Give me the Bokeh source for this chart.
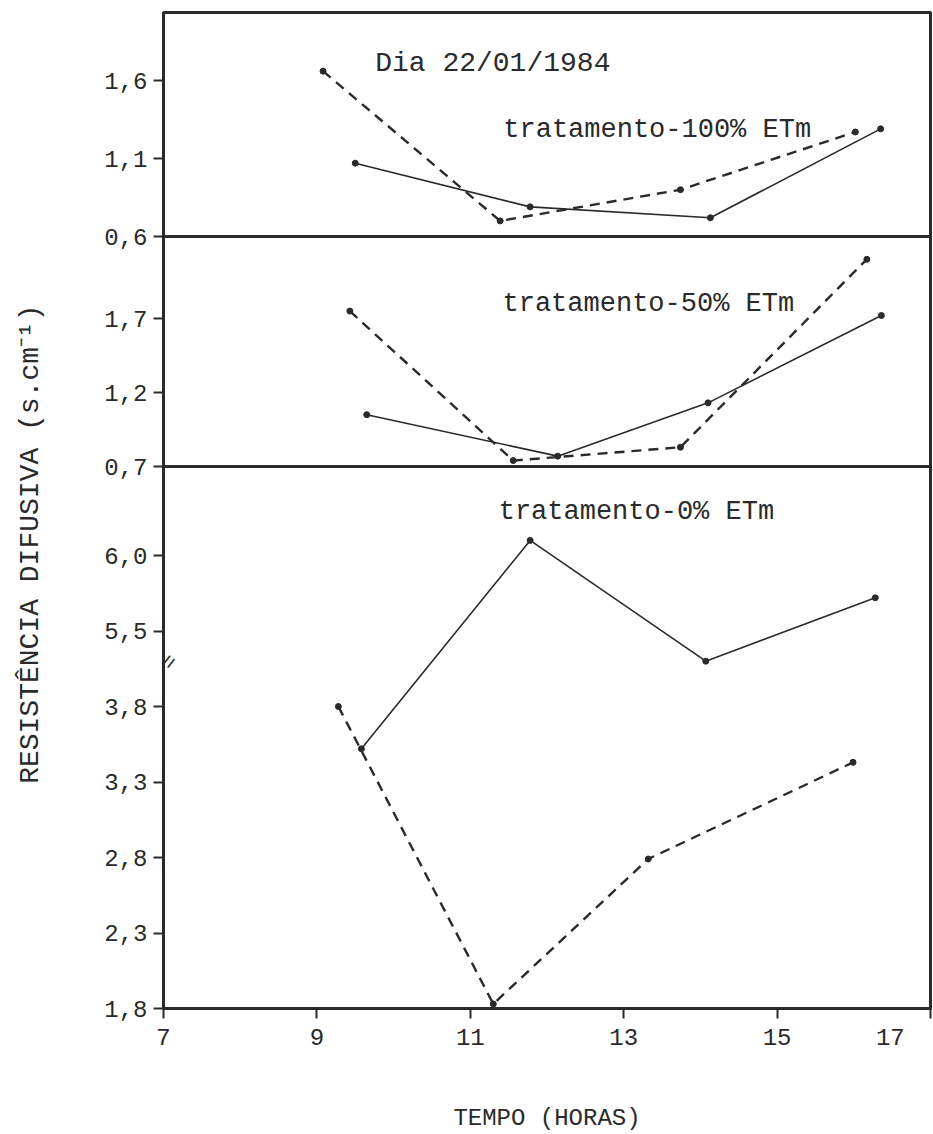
import math
from bokeh.plotting import figure
from bokeh.models import Range1d, FixedTicker, CustomJSTickFormatter, Span, Label
from bokeh.embed import file_html
from bokeh.resources import INLINE

# ---------------- data ----------------
# tratamento 100% ETm
horas_100_cont = [9.50, 11.78, 14.13, 16.35]
res_100_cont = [1.07, 0.79, 0.72, 1.29]
horas_100_trac = [9.08, 11.39, 13.74, 16.02]
res_100_trac = [1.66, 0.70, 0.90, 1.27]
# tratamento 50% ETm
horas_50_cont = [9.65, 12.14, 14.10, 16.36]
res_50_cont = [1.05, 0.77, 1.13, 1.72]
horas_50_trac = [9.43, 11.56, 13.74, 16.17]
res_50_trac = [1.75, 0.74, 0.83, 2.10]
# tratamento 0% ETm
horas_0_cont = [9.58, 11.78, 14.07, 16.28]
res_0_cont = [3.52, 6.10, 5.30, 5.72]
horas_0_trac = [9.28, 11.30, 13.32, 15.99]
res_0_trac = [3.80, 1.83, 2.79, 3.43]

ticks_100 = [0.6, 1.1, 1.6]
ticks_50 = [0.7, 1.2, 1.7]
ticks_0 = [1.8, 2.3, 2.8, 3.3, 3.8, 5.5, 6.0]
x_ticks = [7, 9, 11, 13, 15, 17]

titulo = "Dia 22/01/1984"
rot_100 = "tratamento-100% ETm"
rot_50 = "tratamento-50% ETm"
rot_0 = "tratamento-0% ETm"
eixo_x = "TEMPO (HORAS)"
eixo_y = "RESIST\u00caNCIA DIFUSIVA (s.cm\u207b\u00b9)"

# ---------------- layout constants ----------------
FONT = "Liberation Mono"
INK = "#2a2a2a"
FRAME_H = 996
# panel: (value at panel bottom, panel bottom in px above frame bottom, px per unit)
PANELS = {
    "p100": (0.6, 772, 156.0),
    "p50": (0.7, 542, 148.0),
    "p0": (1.8, 0, 151.0),
}
BREAK_LOW, BREAK_SHIFT = 4.5, 1.2  # axis break in lower panel


def brk(v):
    return v - BREAK_SHIFT if v > BREAK_LOW else v


def to_px(name, v):
    b, d, s = PANELS[name]
    return d + (v - b) * s


p = figure(width=933, height=1134, x_range=Range1d(7, 17), y_range=Range1d(0, FRAME_H),
           output_backend="svg", toolbar_location=None,
           min_border_left=163, min_border_right=3, min_border_top=12, min_border_bottom=126,
           background_fill_color="white", border_fill_color="white")

p.extra_y_ranges = {
    name: Range1d(b - d / s, b + (FRAME_H - d) / s) for name, (b, d, s) in PANELS.items()
}

p.xgrid.visible = False
p.ygrid.visible = False
p.outline_line_color = INK
p.outline_line_width = 3

# ---- y axis (one axis carrying all three panel scales) ----
tick_pos, tick_lab = [], []
for v in ticks_100:
    tick_pos.append(to_px("p100", v)); tick_lab.append(f"{v:.1f}".replace(".", ","))
for v in ticks_50:
    tick_pos.append(to_px("p50", v)); tick_lab.append(f"{v:.1f}".replace(".", ","))
for v in ticks_0:
    tick_pos.append(to_px("p0", brk(v))); tick_lab.append(f"{v:.1f}".replace(".", ","))

yax = p.yaxis[0]
yax.ticker = FixedTicker(ticks=tick_pos)
yax.formatter = CustomJSTickFormatter(args=dict(pos=tick_pos, labs=tick_lab), code="""
let best = 0, bd = 1e9;
for (let i = 0; i < pos.length; i++) { const d = Math.abs(pos[i] - tick); if (d < bd) { bd = d; best = i; } }
return labs[best];
""")
yax.major_label_standoff = 6
# trailing no-break spaces shift the rotated title down, as in the original
yax.axis_label = eixo_y + "\u00a0" * 4
yax.axis_label_text_font_size = "28px"
yax.axis_label_standoff = 55

xax = p.xaxis[0]
xax.ticker = FixedTicker(ticks=x_ticks)
xax.formatter = CustomJSTickFormatter(code="""
return tick == 17 ? "17\\u00a0\\u00a0" : tick.toFixed(0);
""")
xax.major_label_standoff = 6
xax.axis_label = eixo_x
xax.axis_label_text_font_size = "24px"
xax.axis_label_standoff = 50

for ax in (xax, yax):
    ax.axis_line_color = INK
    ax.axis_line_width = 3
    ax.major_tick_line_color = INK
    ax.major_tick_line_width = 2
    ax.major_tick_out = 10
    ax.major_tick_in = 0
    ax.minor_tick_out = 0
    ax.minor_tick_in = 0
    ax.major_label_text_font = FONT
    ax.major_label_text_font_size = "24px"
    ax.major_label_text_color = INK
    ax.axis_label_text_font = FONT
    ax.axis_label_text_font_style = "normal"
    ax.axis_label_text_color = INK

# ---- panel separators ----
for name in ("p100", "p50"):
    p.add_layout(Span(location=PANELS[name][1], dimension="width", line_color=INK, line_width=3))

# ---- series ----
def draw(xs, ys, rng, dashed):
    if dashed:
        p.line(xs, ys, y_range_name=rng, line_color=INK, line_width=2.4, line_dash="10 7")
    else:
        p.line(xs, ys, y_range_name=rng, line_color=INK, line_width=1.6)
    p.scatter(xs, ys, y_range_name=rng, size=6, fill_color=INK, line_color=INK)

draw(horas_100_cont, res_100_cont, "p100", False)
draw(horas_100_trac, res_100_trac, "p100", True)
draw(horas_50_cont, res_50_cont, "p50", False)
draw(horas_50_trac, res_50_trac, "p50", True)
draw(horas_0_cont, [brk(v) for v in res_0_cont], "p0", False)
draw(horas_0_trac, [brk(v) for v in res_0_trac], "p0", True)

# ---- in-panel texts ----
def txt(x, y, rng, s, size):
    p.add_layout(Label(x=x, y=y, y_range_name=rng, text=s, text_font=FONT,
                       text_font_size=size, text_color=INK,
                       text_align="left", text_baseline="middle"))

txt(9.76, 1.71, "p100", titulo, "28px")
txt(11.43, 1.28, "p100", rot_100, "27px")
txt(11.42, 1.80, "p50", rot_50, "27px")
txt(11.37, 5.085, "p0", rot_0, "27px")

# axis break mark
p.add_layout(Label(x=7.09, y=to_px("p0", 4.09), text="=", text_font=FONT, text_font_size="22px",
                   text_color=INK, angle=0.9, text_align="center", text_baseline="middle"))

open("out.html", "w").write(file_html(p, INLINE))
